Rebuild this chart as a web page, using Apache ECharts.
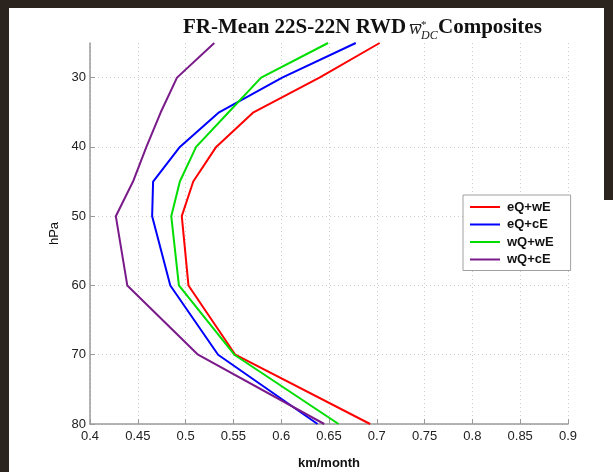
<!DOCTYPE html>
<html>
<head>
<meta charset="utf-8">
<script src="https://cdn.jsdelivr.net/npm/echarts@6/dist/echarts.min.js"></script>
<style>
  html, body { margin: 0; padding: 0; background: #ffffff; }
  #chart { width: 613px; height: 472px; }
</style>
</head>
<body>
<div id="chart"></div>
<script>
// Pressure levels (hPa) shared by every composite profile
const levels = [25, 30, 35, 40, 45, 50, 60, 70, 80];

// Composite residual vertical velocity profiles (km/month)
const eQwE = [0.703, 0.640, 0.571, 0.532, 0.508, 0.496, 0.503, 0.552, 0.693];
const eQcE = [0.678, 0.601, 0.535, 0.494, 0.466, 0.465, 0.484, 0.534, 0.638];
const wQwE = [0.649, 0.579, 0.545, 0.511, 0.494, 0.485, 0.493, 0.551, 0.660];
const wQcE = [0.530, 0.491, 0.474, 0.459, 0.445, 0.427, 0.439, 0.513, 0.645];

const seriesNames = ['eQ+wE', 'eQ+cE', 'wQ+wE', 'wQ+cE'];
const seriesValues = [eQwE, eQcE, wQwE, wQcE];
const seriesColors = ['#ff0000', '#0000ff', '#00dd00', '#7a1a8a'];

// Labelled pressure ticks
const yTicks = [30, 40, 50, 60, 70, 80];

const chart = echarts.init(document.getElementById('chart'), null, { renderer: 'canvas' });

const axisFont = { fontFamily: 'Liberation Sans, Arial, sans-serif', fontSize: 13, color: '#222' };
const gridLine = { show: true, lineStyle: { color: '#cccccc', type: [1, 3], width: 1 } };

const series = seriesNames.map((name, i) => ({
  name: name,
  type: 'line',
  symbol: 'none',
  data: levels.map((p, k) => [seriesValues[i][k], p]),
  lineStyle: { color: seriesColors[i], width: 2 },
  itemStyle: { color: seriesColors[i] },
  emphasis: { disabled: true },
  animation: false
}));

const titleFont = 'Liberation Serif, Times New Roman, serif';

chart.setOption({
  backgroundColor: '#ffffff',
  animation: false,
  grid: { left: 90, right: 45, top: 43, bottom: 48, containLabel: false, outerBoundsMode: 'none' },
  xAxis: {
    type: 'value',
    min: 0.4,
    max: 0.9,
    interval: 0.05,
    name: 'km/month',
    nameLocation: 'middle',
    nameGap: 33,
    nameTextStyle: { fontFamily: 'Liberation Sans, Arial, sans-serif', fontSize: 13, fontWeight: 'bold', color: '#111' },
    axisLine: { show: true, lineStyle: { color: '#9a9a9a', width: 1.5 } },
    axisTick: { show: true, inside: true, length: 5, lineStyle: { color: '#9a9a9a' } },
    axisLabel: Object.assign({ margin: 6 }, axisFont),
    splitLine: gridLine
  },
  yAxis: {
    type: 'value',
    inverse: true,
    min: 25,
    max: 80,
    name: 'hPa',
    nameLocation: 'middle',
    nameGap: 27,
    nameRotate: 90,
    nameTextStyle: { fontFamily: 'Liberation Sans, Arial, sans-serif', fontSize: 13, color: '#111' },
    axisLine: { show: true, onZero: false, lineStyle: { color: '#9a9a9a', width: 1.5 } },
    axisTick: { show: true, inside: true, length: 5, customValues: yTicks, lineStyle: { color: '#9a9a9a' } },
    axisLabel: Object.assign({ margin: 4, customValues: yTicks }, axisFont),
    splitLine: gridLine
  },
  legend: {
    data: seriesNames,
    orient: 'vertical',
    left: 463,
    top: 195,
    icon: 'rect',
    backgroundColor: '#ffffff',
    borderColor: '#a0a0a0',
    borderWidth: 1,
    borderRadius: 0,
    padding: [5, 17, 4, 7],
    itemWidth: 30,
    itemHeight: 2,
    itemGap: 3.5,
    selectedMode: false,
    textStyle: { fontFamily: 'Liberation Sans, Arial, sans-serif', fontSize: 13, lineHeight: 14, fontWeight: 'bold', color: '#111', padding: [0, 0, 0, 2] }
  },
  graphic: [
    // dark surround along the top, left and right edges
    { type: 'rect', shape: { x: 0, y: 0, width: 613, height: 8 }, style: { fill: '#2b231e' }, silent: true },
    { type: 'rect', shape: { x: 0, y: 0, width: 9, height: 472 }, style: { fill: '#2b231e' }, silent: true },
    { type: 'rect', shape: { x: 604, y: 0, width: 9, height: 200 }, style: { fill: '#2b231e' }, silent: true },
    // title pieces: plain text, overbarred w with stacked * and DC, then "Composites"
    { type: 'text', left: 183, top: 17, style: { text: 'FR-Mean 22S-22N RWD', font: 'bold 21px ' + titleFont, fill: '#111' }, silent: true },
    { type: 'text', left: 409, top: 19, style: { text: 'w', font: 'italic 19px ' + titleFont, fill: '#222' }, silent: true },
    { type: 'rect', shape: { x: 410, y: 24, width: 11, height: 1 }, style: { fill: '#222' }, silent: true },
    { type: 'text', left: 421, top: 20, style: { text: '*', font: '11px ' + titleFont, fill: '#222' }, silent: true },
    { type: 'text', left: 421, top: 30, style: { text: 'DC', font: 'italic 12px ' + titleFont, fill: '#222' }, silent: true },
    { type: 'text', left: 438, top: 17, style: { text: 'Composites', font: 'bold 21px ' + titleFont, fill: '#111' }, silent: true }
  ],
  series: series
});
</script>
</body>
</html>
